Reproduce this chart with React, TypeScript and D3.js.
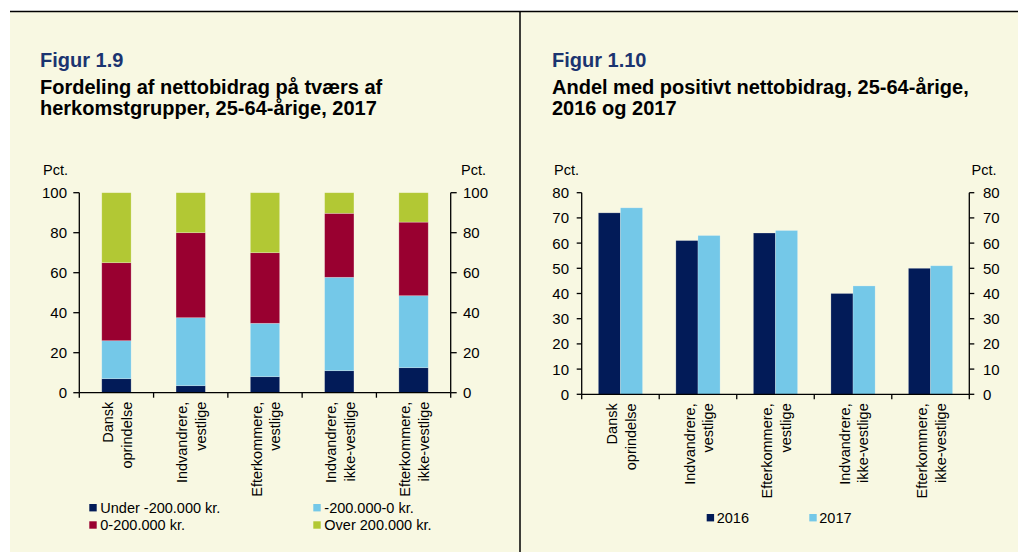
import React from "react";
import * as d3 from "d3";

const categories = [
  "Dansk\noprindelse",
  "Indvandrere,\nvestlige",
  "Efterkommere,\nvestlige",
  "Indvandrere,\nikke-vestlige",
  "Efterkommere,\nikke-vestlige",
];

// Figur 1.9 – stacked shares (pct.)
const underMinus200 = [7, 3.5, 8, 11, 12.5];
const minus200To0 = [19, 34, 26.7, 46.7, 36];
const zeroTo200 = [39, 42.5, 35.3, 32, 36.8];
const over200 = [35, 20, 30, 10.3, 14.7];
const stackSeries = ["Under -200.000 kr.", "-200.000-0 kr.", "0-200.000 kr.", "Over 200.000 kr."];
const stackColors = ["#021B58", "#74C8E8", "#990030", "#B2C834"];
const leftTicks = [0, 20, 40, 60, 80, 100];

// Figur 1.10 – share with positive contribution
const share2016 = [72, 61, 64, 40, 50];
const share2017 = [74, 63, 65, 43, 51];
const years = ["2016", "2017"];
const yearColors = ["#021B58", "#74C8E8"];
const rightTicks = [0, 10, 20, 30, 40, 50, 60, 70, 80];

const FONT = "'Liberation Sans', Arial, Helvetica, sans-serif";
const BG = "#F8F8E2";

function XLabels({ x, y0 }: { x: d3.ScaleBand<string>; y0: number }) {
  return (
    <g>
      {categories.map((c) => {
        const cx = (x(c) as number) + x.bandwidth() / 2;
        const lines = c.split("\n");
        return (
          <text
            key={c}
            transform={`translate(${cx + 1},${y0 + 9}) rotate(-90)`}
            textAnchor="end"
            fontSize={14.5}
            fontFamily={FONT}
            fill="#000"
          >
            {lines.map((l, i) => (
              <tspan key={i} x={0} y={(i - (lines.length - 1) / 2) * 18.5} dominantBaseline="central">
                {l}
              </tspan>
            ))}
          </text>
        );
      })}
    </g>
  );
}

function Axes({
  x,
  y,
  ticks,
  x0,
  x1,
  y0,
  y1,
  leftLabelX,
  rightLabelX,
  tickLen,
}: {
  x: d3.ScaleBand<string>;
  y: d3.ScaleLinear<number, number>;
  ticks: number[];
  x0: number;
  x1: number;
  y0: number;
  y1: number;
  leftLabelX: number;
  rightLabelX: number;
  tickLen: number;
}) {
  const sepX = [...categories.map((c) => x(c) as number), x1];
  return (
    <g stroke="#000" strokeWidth={1.3} fill="none">
      <line x1={x0} x2={x0} y1={y1} y2={y0} />
      <line x1={x1} x2={x1} y1={y1} y2={y0} />
      <line x1={x0} x2={x1} y1={y0} y2={y0} />
      {ticks.map((t) => (
        <g key={t}>
          <line x1={x0 - tickLen} x2={x0} y1={y(t)} y2={y(t)} />
          <line x1={x1} x2={x1 + tickLen} y1={y(t)} y2={y(t)} />
          <text
            x={leftLabelX}
            y={y(t)}
            textAnchor="end"
            dominantBaseline="central"
            fontSize={15}
            fontFamily={FONT}
            fill="#000"
            stroke="none"
          >
            {t}
          </text>
          <text
            x={rightLabelX}
            y={y(t)}
            textAnchor="start"
            dominantBaseline="central"
            fontSize={15}
            fontFamily={FONT}
            fill="#000"
            stroke="none"
          >
            {t}
          </text>
        </g>
      ))}
      {sepX.map((sx, i) => (
        <line key={i} x1={sx} x2={sx} y1={y0} y2={y0 + 5} />
      ))}
    </g>
  );
}

function Titles({ x, fig, lines }: { x: number; fig: string; lines: string[] }) {
  return (
    <g fontFamily={FONT} fontWeight="bold" fontSize={20}>
      <text x={x} y={67} fill="#1B3470">
        {fig}
      </text>
      {lines.map((l, i) => (
        <text key={i} x={x} y={94 + i * 21} fill="#000">
          {l}
        </text>
      ))}
    </g>
  );
}

export default function App() {
  const W = 1018;
  const H = 552;

  // Left chart geometry
  const Lx0 = 79.3,
    Lx1 = 450.7,
    Ly0 = 392.7,
    Ly1 = 192.7;
  const xL = d3.scaleBand<string>().domain(categories).range([Lx0, Lx1]).padding(0);
  const yL = d3.scaleLinear().domain([0, 100]).range([Ly0, Ly1]);
  const stackData = categories.map((c, i) => ({
    cat: c,
    s0: underMinus200[i],
    s1: minus200To0[i],
    s2: zeroTo200[i],
    s3: over200[i],
  }));
  const stacked = d3.stack<any>().keys(["s0", "s1", "s2", "s3"])(stackData);
  const barWL = xL.bandwidth() * 0.395;

  // Right chart geometry
  const Rx0 = 581.7,
    Rx1 = 969.3,
    Ry0 = 394.3,
    Ry1 = 192.7;
  const xR = d3.scaleBand<string>().domain(categories).range([Rx0, Rx1]).padding(0);
  const yR = d3.scaleLinear().domain([0, 80]).range([Ry0, Ry1]);
  const pairW = xR.bandwidth() * 0.57;
  const xInner = d3.scaleBand<string>().domain(years).range([0, pairW]).padding(0);
  const yearValues = [share2016, share2017];

  return (
    <svg
      width={W}
      height={H}
      viewBox={`0 0 ${W} ${H}`}
      style={{ position: "absolute", left: 0, top: 0, background: "#fff" }}
    >
      <rect x={10} y={11} width={W - 10} height={H - 11} fill={BG} />
      <line x1={10} x2={W} y1={11.5} y2={11.5} stroke="#000" strokeWidth={1.5} />
      <line x1={520} x2={520} y1={11} y2={H} stroke="#000" strokeWidth={1.5} />

      <Titles
        x={40}
        fig="Figur 1.9"
        lines={["Fordeling af nettobidrag på tværs af", "herkomstgrupper, 25-64-årige, 2017"]}
      />
      <Titles
        x={552}
        fig="Figur 1.10"
        lines={["Andel med positivt nettobidrag, 25-64-årige,", "2016 og 2017"]}
      />

      {/* Left chart */}
      <g fontFamily={FONT} fontSize={14.5}>
        <text x={43} y={170} dominantBaseline="central">Pct.</text>
        <text x={461} y={170} dominantBaseline="central">Pct.</text>
      </g>
      <g>
        {stacked.map((layer, li) => (
          <g key={li} fill={stackColors[li]}>
            {layer.map((d: any) => (
              <rect
                key={d.data.cat}
                x={(xL(d.data.cat) as number) + (xL.bandwidth() - barWL) / 2}
                y={yL(d[1])}
                width={barWL}
                height={yL(d[0]) - yL(d[1])}
                stroke="rgba(255,255,255,0.35)"
                strokeWidth={0.7}
              />
            ))}
          </g>
        ))}
      </g>
      <Axes
        x={xL}
        y={yL}
        ticks={leftTicks}
        x0={Lx0}
        x1={Lx1}
        y0={Ly0}
        y1={Ly1}
        leftLabelX={67}
        rightLabelX={463}
        tickLen={6}
      />
      <XLabels x={xL} y0={Ly0} />
      <g fontFamily={FONT} fontSize={14.5}>
        {stackSeries.map((s, i) => {
          const col = i % 2;
          const row = Math.floor(i / 2);
          const sx = col === 0 ? 89.3 : 313.3;
          const sy = row === 0 ? 507.7 : 525;
          return (
            <g key={s}>
              <rect x={sx} y={sy - 3.7} width={7.4} height={7.4} fill={stackColors[i]} />
              <text x={sx + 11} y={sy} dominantBaseline="central">
                {s}
              </text>
            </g>
          );
        })}
      </g>

      {/* Right chart */}
      <g fontFamily={FONT} fontSize={14.5}>
        <text x={554} y={170} dominantBaseline="central">Pct.</text>
        <text x={971.5} y={170} dominantBaseline="central">Pct.</text>
      </g>
      <g>
        {categories.map((c, ci) => {
          const left = (xR(c) as number) + (xR.bandwidth() - pairW) / 2;
          return (
            <g key={c}>
              {years.map((yr, yi) => (
                <rect
                  key={yr}
                  x={left + (xInner(yr) as number)}
                  y={yR(yearValues[yi][ci])}
                  width={xInner.bandwidth()}
                  height={Ry0 - yR(yearValues[yi][ci])}
                  fill={yearColors[yi]}
                  stroke="rgba(255,255,255,0.3)"
                  strokeWidth={0.7}
                />
              ))}
            </g>
          );
        })}
      </g>
      <Axes
        x={xR}
        y={yR}
        ticks={rightTicks}
        x0={Rx0}
        x1={Rx1}
        y0={Ry0}
        y1={Ry1}
        leftLabelX={569}
        rightLabelX={983}
        tickLen={5}
      />
      <XLabels x={xR} y0={Ry0} />
      <g fontFamily={FONT} fontSize={14.5}>
        {years.map((yr, i) => {
          const sx = i === 0 ? 706.7 : 809.3;
          const sy = 517.7;
          return (
            <g key={yr}>
              <rect x={sx} y={sy - 3.7} width={7.4} height={7.4} fill={yearColors[i]} />
              <text x={sx + 10} y={sy} dominantBaseline="central">
                {yr}
              </text>
            </g>
          );
        })}
      </g>
    </svg>
  );
}
